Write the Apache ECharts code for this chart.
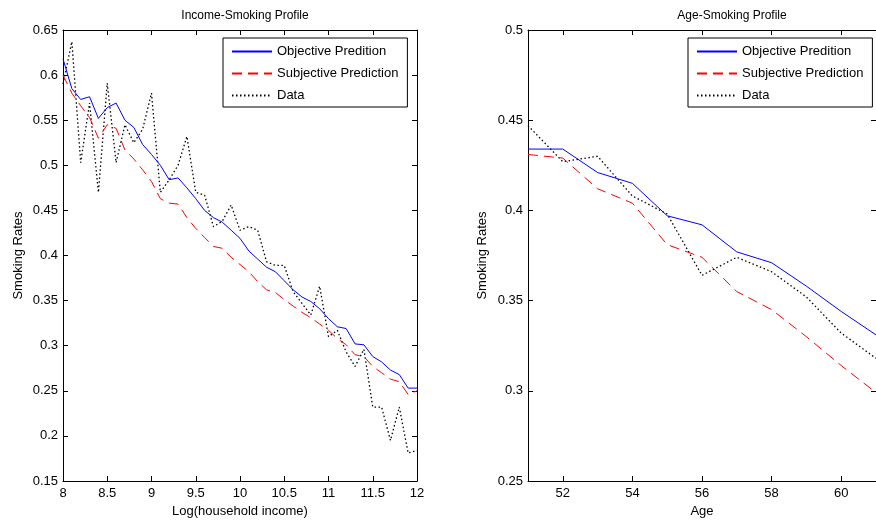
<!DOCTYPE html>
<html>
<head>
<meta charset="utf-8">
<script src="https://cdn.jsdelivr.net/npm/echarts@6/dist/echarts.min.js"></script>
<style>html,body{margin:0;padding:0;background:#fff}#c{width:876px;height:523px}</style>
</head>
<body>
<div id="c"></div>
<script>
// ---- Income-Smoking Profile ----
const incomeX = [8.0,8.1,8.2,8.3,8.4,8.5,8.6,8.7,8.8,8.9,9.0,9.1,9.2,9.3,9.4,9.5,9.6,9.7,9.8,9.9,10.0,10.1,10.2,10.3,10.4,10.5,10.6,10.7,10.8,10.9,11.0,11.1,11.2,11.3,11.4,11.5,11.6,11.7,11.8,11.9,12.0];
const incomeObjective = [0.618,0.585,0.573,0.576,0.552,0.564,0.569,0.550,0.542,0.523,0.512,0.500,0.484,0.486,0.475,0.463,0.450,0.442,0.437,0.428,0.419,0.405,0.396,0.387,0.382,0.372,0.362,0.354,0.349,0.341,0.330,0.321,0.319,0.302,0.301,0.288,0.282,0.273,0.268,0.253,0.253];
const incomeSubjective = [0.600,0.580,0.566,0.553,0.530,0.545,0.541,0.517,0.507,0.495,0.482,0.463,0.458,0.457,0.442,0.430,0.420,0.410,0.408,0.398,0.390,0.382,0.371,0.362,0.359,0.351,0.344,0.337,0.331,0.324,0.317,0.308,0.301,0.290,0.288,0.277,0.270,0.263,0.260,0.246,0.250];
const incomeData = [0.590,0.637,0.503,0.569,0.470,0.591,0.503,0.545,0.525,0.540,0.580,0.470,0.484,0.500,0.532,0.470,0.467,0.432,0.438,0.456,0.428,0.432,0.428,0.393,0.389,0.389,0.360,0.347,0.334,0.366,0.310,0.317,0.293,0.277,0.296,0.232,0.232,0.195,0.232,0.181,0.184];

// ---- Age-Smoking Profile ----
const ageX = [51,52,53,54,55,56,57,58,59,60,61];
const ageObjective = [0.434,0.434,0.421,0.415,0.397,0.392,0.377,0.371,0.358,0.344,0.331];
const ageSubjective = [0.431,0.429,0.412,0.404,0.381,0.374,0.355,0.345,0.330,0.314,0.299];
const ageData = [0.447,0.427,0.430,0.408,0.398,0.364,0.374,0.366,0.352,0.332,0.318];
const ageTicks = [52,54,56,58,60];

const seriesNames = ['Objective Predition','Subjective Prediction','Data'];
const FONT = 'Liberation Sans';

function pairs(xs, ys){ return xs.map((x,i)=>[x, ys[i]]); }

const lineStyles = [
  {color:'#0000ff', width:1, type:'solid'},
  {color:'#ff0000', width:1, type:[10,6]},
  {color:'#000000', width:1.3, type:[1.5,2.5]}
];

function mkSeries(xi, xs, arrs){
  return arrs.map((ys,k)=>({
    type:'line', name:seriesNames[k], xAxisIndex:xi, yAxisIndex:xi,
    data:pairs(xs, ys), showSymbol:false, symbol:'none', animation:false,
    lineStyle:lineStyles[k], itemStyle:{color:lineStyles[k].color}, z:3-k
  }));
}

const axisLine = {show:true, lineStyle:{color:'#000', width:1}};
const tick = {show:true, inside:true, length:5, lineStyle:{color:'#000'}};
const lbl = {color:'#000', fontSize:13, fontFamily:FONT};

const grids = [
  {left:63, top:30, width:354, height:451},
  {left:528, top:30, width:353, height:451}
];

const xAxes = [
  {gridIndex:0, type:'value', position:'bottom', min:8, max:12, interval:0.5,
   axisLine, axisTick:tick, axisLabel:{...lbl, margin:6}, splitLine:{show:false},
   name:'Log(household income)', nameLocation:'middle', nameGap:24,
   nameTextStyle:{color:'#000', fontSize:13, fontFamily:FONT}},
  {gridIndex:0, type:'value', position:'top', min:8, max:12, interval:0.5,
   axisLine, axisTick:tick, axisLabel:{show:false}, splitLine:{show:false}},
  {gridIndex:1, type:'value', position:'bottom', min:51, max:61,
   axisLine, axisTick:{...tick, customValues:ageTicks},
   axisLabel:{...lbl, margin:6, customValues:ageTicks}, splitLine:{show:false},
   name:'Age', nameLocation:'middle', nameGap:24,
   nameTextStyle:{color:'#000', fontSize:13, fontFamily:FONT}},
  {gridIndex:1, type:'value', position:'top', min:51, max:61,
   axisLine, axisTick:{...tick, customValues:ageTicks}, axisLabel:{show:false}, splitLine:{show:false}}
];
const yAxes = [
  {gridIndex:0, type:'value', position:'left', min:0.15, max:0.65, interval:0.05,
   axisLine, axisTick:tick, axisLabel:{...lbl, margin:5}, splitLine:{show:false},
   name:'Smoking Rates', nameLocation:'middle', nameGap:38,
   nameTextStyle:{color:'#000', fontSize:13, fontFamily:FONT}},
  {gridIndex:0, type:'value', position:'right', min:0.15, max:0.65, interval:0.05,
   axisLine, axisTick:tick, axisLabel:{show:false}, splitLine:{show:false}},
  {gridIndex:1, type:'value', position:'left', min:0.25, max:0.5, interval:0.05,
   axisLine, axisTick:tick, axisLabel:{...lbl, margin:5}, splitLine:{show:false},
   name:'Smoking Rates', nameLocation:'middle', nameGap:39,
   nameTextStyle:{color:'#000', fontSize:13, fontFamily:FONT}},
  {gridIndex:1, type:'value', position:'right', min:0.25, max:0.5, interval:0.05,
   axisLine, axisTick:tick, axisLabel:{show:false}, splitLine:{show:false}}
];

function mkLegend(left){
  return {
    left:left, top:38, orient:'vertical', data:seriesNames,
    itemWidth:40, itemHeight:12, itemGap:9,
    padding:[7,9,5,8], borderColor:'#000', borderWidth:1, backgroundColor:'#fff',
    selectedMode:false,
    itemStyle:{opacity:0},
    textStyle:{color:'#000', fontSize:13, fontFamily:FONT, padding:[0,0,0,0]}
  };
}

const chart = echarts.init(document.getElementById('c'), null, {renderer:'canvas'});
chart.setOption({
  backgroundColor:'#fff',
  animation:false,
  textStyle:{fontFamily:FONT},
  title:[
    {text:'Income-Smoking Profile', left:240, top:5, textAlign:'center',
     textStyle:{color:'#000', fontSize:12, fontWeight:'normal', fontFamily:FONT}},
    {text:'Age-Smoking Profile', left:727, top:5, textAlign:'center',
     textStyle:{color:'#000', fontSize:12, fontWeight:'normal', fontFamily:FONT}}
  ],
  legend:[mkLegend(223), mkLegend(688)],
  grid:grids,
  xAxis:xAxes,
  yAxis:yAxes,
  series:[
    ...mkSeries(0, incomeX, [incomeObjective, incomeSubjective, incomeData]),
    ...mkSeries(2, ageX, [ageObjective, ageSubjective, ageData])
  ]
});
</script>
</body>
</html>
